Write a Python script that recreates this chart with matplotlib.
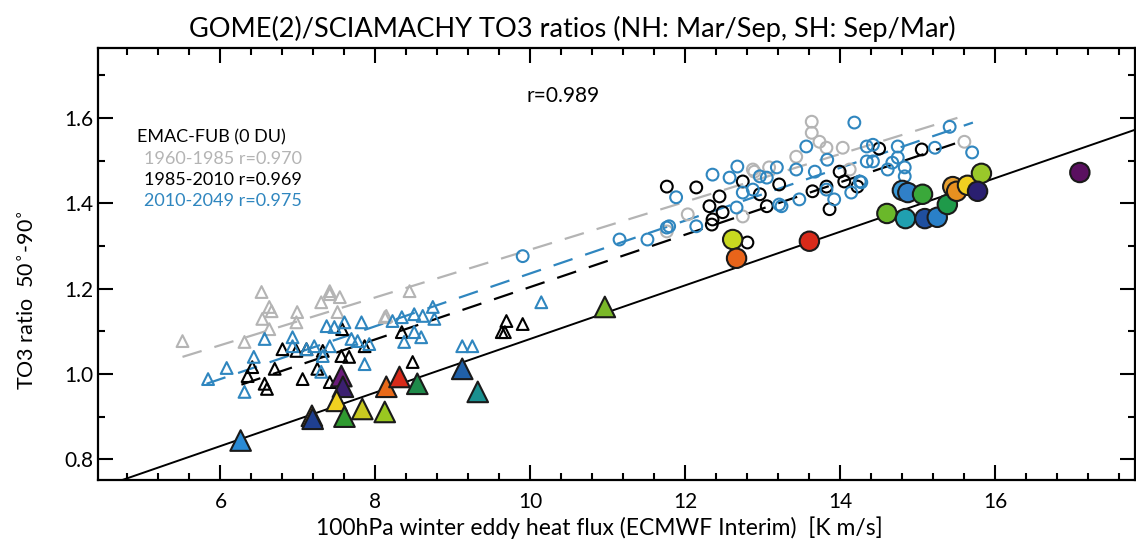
import matplotlib
matplotlib.use("Agg")
import matplotlib.pyplot as plt
from matplotlib.ticker import MultipleLocator
import numpy as np

plt.rcParams['font.family'] = ['Lato', 'DejaVu Sans']

# model (EMAC-FUB) triangles
gray_tri_x = [5.51, 6.53, 6.63, 6.66, 6.54, 6.31, 6.99, 6.98, 7.41, 7.41, 7.54, 7.30, 7.51, 8.12, 6.63, 8.44, 8.14]
gray_tri_y = [1.077, 1.192, 1.157, 1.147, 1.129, 1.075, 1.145, 1.121, 1.194, 1.187, 1.180, 1.168, 1.145, 1.133, 1.105, 1.194, 1.136]

blue_tri_x = [5.84, 6.08, 6.31, 6.43, 6.57, 6.93, 6.93, 7.11, 7.21, 7.37, 7.47, 7.60, 7.82, 7.69, 7.41, 7.32,
              7.77, 7.92, 7.86, 7.30, 8.22, 8.34, 8.50, 8.61, 8.74, 8.76, 8.50, 8.59, 8.37, 9.12, 9.25, 10.14]
blue_tri_y = [0.988, 1.014, 0.958, 1.040, 1.082, 1.086, 1.065, 1.058, 1.065, 1.112, 1.110, 1.121, 1.121, 1.082, 1.065, 1.042,
              1.077, 1.070, 1.023, 1.005, 1.124, 1.133, 1.140, 1.136, 1.157, 1.129, 1.098, 1.086, 1.075, 1.065, 1.065, 1.168]

black_tri_x = [6.41, 6.35, 6.57, 6.60, 6.80, 6.70, 7.06, 6.98, 7.11, 7.32, 7.57, 7.56, 7.66, 7.86, 7.41, 7.25,
               8.34, 8.48, 9.69, 9.90, 9.63, 9.67]
black_tri_y = [1.016, 0.995, 0.977, 0.965, 1.058, 1.012, 0.988, 1.054, 1.058, 1.054, 1.105, 1.042, 1.040, 1.065, 0.981, 1.012,
               1.098, 1.028, 1.124, 1.117, 1.098, 1.098]

# model circles
gray_circ_x = [13.63, 13.63, 13.73, 13.82, 14.03, 13.43, 12.87, 12.03, 12.74, 15.60, 14.12, 12.89, 11.76, 13.08]
gray_circ_y = [1.591, 1.565, 1.544, 1.530, 1.530, 1.509, 1.479, 1.374, 1.369, 1.544, 1.479, 1.474, 1.334, 1.484]

blue_circ_x = [14.18, 13.56, 13.83, 12.67, 12.35, 12.57, 13.18, 13.43, 13.67, 14.34, 14.34, 11.88, 13.05, 13.24,
               13.47, 13.92, 11.79, 12.14, 12.66, 12.87, 13.82, 15.41, 14.42, 14.74, 15.22, 15.70, 14.42, 14.67,
               14.74, 14.61, 14.83, 14.83, 14.25, 12.96, 12.74, 13.21, 14.14, 14.27, 11.51, 11.76, 9.90, 11.15]
blue_circ_y = [1.589, 1.533, 1.502, 1.486, 1.467, 1.460, 1.484, 1.479, 1.474, 1.533, 1.498, 1.414, 1.460, 1.393,
               1.409, 1.409, 1.346, 1.346, 1.390, 1.432, 1.432, 1.579, 1.537, 1.533, 1.530, 1.519, 1.498, 1.495,
               1.507, 1.479, 1.484, 1.463, 1.451, 1.463, 1.425, 1.397, 1.425, 1.449, 1.315, 1.343, 1.276, 1.315]

black_circ_x = [12.14, 12.44, 12.31, 12.48, 12.35, 12.74, 12.96, 13.05, 13.21, 13.64, 13.82, 13.86, 13.99,
                14.05, 14.22, 12.80, 14.50, 15.05, 12.34, 11.76]
black_circ_y = [1.437, 1.416, 1.393, 1.379, 1.362, 1.451, 1.421, 1.393, 1.444, 1.428, 1.439, 1.386, 1.474,
                1.451, 1.439, 1.308, 1.528, 1.526, 1.350, 1.439]

# observations (GOME/SCIAMACHY)
obs_tri_x = [6.26, 7.18, 7.19, 7.56, 7.58, 7.50, 7.60, 7.83, 8.12, 8.14, 8.31, 8.54, 9.12, 9.32, 10.96]
obs_tri_y = [0.844, 0.902, 0.895, 0.995, 0.970, 0.937, 0.900, 0.918, 0.911, 0.970, 0.993, 0.977, 1.012, 0.958, 1.157]
obs_tri_c = ['#2a8ad4', '#e8a020', '#1f3f8f', '#6a1b7a', '#3b1f70', '#f0d020', '#2f9a30', '#c8c820',
             '#9ac820', '#e86a1a', '#d82a1a', '#1f8a4a', '#2060a8', '#1a9090', '#7ab828']

obs_circ_x = [12.61, 12.66, 13.60, 14.60, 14.80, 14.87, 15.06, 14.84, 15.09, 15.25, 15.38, 15.45, 15.50,
              15.64, 15.82, 15.77, 17.09]
obs_circ_y = [1.315, 1.271, 1.311, 1.376, 1.430, 1.425, 1.421, 1.364, 1.364, 1.367, 1.397, 1.439, 1.428,
              1.442, 1.470, 1.428, 1.472]
obs_circ_c = ['#c8d820', '#e8641a', '#d82a1a', '#6ab82a', '#3a9ad8', '#3080c8', '#3aa83a', '#20a0b0',
              '#1f4f9f', '#2a80c8', '#1f9a4a', '#e8a030', '#e89020', '#f0d020', '#9ac82a', '#2a1f70', '#5a1060']

# regression lines (end points)
fit_obs_x, fit_obs_y = [4.74, 17.80], [0.752, 1.572]
fit_gray_x, fit_gray_y = [5.51, 15.51], [1.040, 1.600]
fit_black_x, fit_black_y = [6.27, 15.48], [0.975, 1.540]
fit_blue_x, fit_blue_y = [5.82, 15.71], [0.977, 1.589]

GRAY = '#b4b4b4'
BLUE = '#2f86bf'

fig = plt.figure(figsize=(11.36, 5.44), dpi=100)
ax = fig.add_axes([0.0863, 0.118, 0.9127, 0.794])

ax.plot(fit_gray_x, fit_gray_y, color=GRAY, lw=1.6, dashes=(9, 6), zorder=1)
ax.plot(fit_black_x, fit_black_y, color='black', lw=1.6, dashes=(9, 6), zorder=1)
ax.plot(fit_blue_x, fit_blue_y, color=BLUE, lw=1.6, dashes=(9, 6), zorder=1)
ax.plot(fit_obs_x, fit_obs_y, color='black', lw=1.4, zorder=1)

ms = 72
for xs, ys, col in [(gray_tri_x, gray_tri_y, GRAY), (black_tri_x, black_tri_y, 'black'),
                    (blue_tri_x, blue_tri_y, BLUE)]:
    ax.scatter(xs, ys, s=ms, marker='^', facecolors='none', edgecolors=col, linewidths=1.5, zorder=2)
for xs, ys, col in [(gray_circ_x, gray_circ_y, GRAY), (black_circ_x, black_circ_y, 'black'),
                    (blue_circ_x, blue_circ_y, BLUE)]:
    ax.scatter(xs, ys, s=ms, marker='o', facecolors='none', edgecolors=col, linewidths=1.5, zorder=2)

ax.scatter(obs_tri_x, obs_tri_y, s=220, marker='^', c=obs_tri_c, edgecolors='#1a1a1a', linewidths=1.5, zorder=3)
ax.scatter(obs_circ_x, obs_circ_y, s=195, marker='o', c=obs_circ_c, edgecolors='#1a1a1a', linewidths=1.5, zorder=3)

ax.set_xlim(4.42, 17.8)
ax.set_ylim(0.752, 1.764)
ax.xaxis.set_major_locator(MultipleLocator(2))
ax.xaxis.set_minor_locator(MultipleLocator(0.4))
ax.yaxis.set_major_locator(MultipleLocator(0.2))
ax.yaxis.set_minor_locator(MultipleLocator(0.1))
ax.yaxis.set_major_formatter(plt.FormatStrFormatter('%.1f'))
ax.tick_params(which='both', direction='in', top=True, right=True, width=1.5, labelsize=15)
ax.tick_params(which='major', length=11)
ax.tick_params(which='minor', length=5)
ax.tick_params(axis='x', pad=9)
for sp in ax.spines.values():
    sp.set_linewidth(1.6)

ax.set_title('GOME(2)/SCIAMACHY TO3 ratios (NH: Mar/Sep, SH: Sep/Mar)', fontsize=19.5, pad=8, x=0.457)
ax.set_xlabel('100hPa winter eddy heat flux (ECMWF Interim)  [K m/s]', fontsize=16.5, labelpad=1)
ax.xaxis.set_label_coords(0.484, -0.085)
ax.set_ylabel(r'TO3 ratio  50$^{\circ}$-90$^{\circ}$', fontsize=15.5, labelpad=10)
ax.yaxis.set_label_coords(-0.058, 0.417)

ax.text(0.413, 0.875, 'r=0.989', transform=ax.transAxes, fontsize=15)
ax.text(0.038, 0.78, 'EMAC-FUB (0 DU)', transform=ax.transAxes, fontsize=13)
ax.text(0.044, 0.731, '1960-1985 r=0.970', transform=ax.transAxes, fontsize=13, color=GRAY)
ax.text(0.044, 0.682, '1985-2010 r=0.969', transform=ax.transAxes, fontsize=13, color='black')
ax.text(0.044, 0.633, '2010-2049 r=0.975', transform=ax.transAxes, fontsize=13, color=BLUE)

fig.savefig('out.png', dpi=100)
